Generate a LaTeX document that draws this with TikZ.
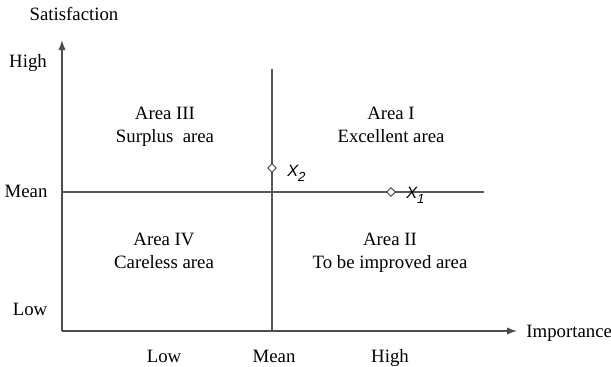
\documentclass[tikz,border=0pt]{standalone}
\usepackage{fontspec}
\setmainfont{Liberation Serif}
\newfontfamily\pointfont{Liberation Sans}
\usetikzlibrary{positioning,arrows.meta,shapes.geometric}

\newcommand{\pointname}[1]{X\raisebox{-0.55ex}{\fontsize{6.6}{7}\selectfont #1}}

\begin{document}
\begin{tikzpicture}[
  x=0.5pt,y=-0.5pt,
  >={Latex[length=5pt,width=3.6pt]},
  axis/.style={->,draw=black!70,line width=0.6pt},
  divider/.style={draw=black!65,line width=0.6pt},
  lbl/.style={font=\fontsize{9.4}{11.5}\selectfont,inner sep=0pt,anchor=base},
  area/.style={lbl,align=center,anchor=north},
  point/.style={diamond,draw=black!75,fill=white,line width=0.45pt,
    minimum size=4.4pt,inner sep=0pt},
  pname/.style={font=\pointfont\itshape\fontsize{8.2}{9.8}\selectfont,inner sep=0pt}
]
  \useasboundingbox (0,0) rectangle (611,366);

  \coordinate (origin) at (62,331);
  \coordinate (ytip) at (62,40);
  \coordinate (xtip) at (517,331);
  \coordinate (mstart) at (62,192);
  \coordinate (mend) at (484,192);
  \coordinate (mtop) at (272,69);

  % axes and dividing lines
  \draw[axis] (origin) -- (ytip);
  \draw[axis] (origin) -- (xtip);
  \draw[divider] (mstart) -- (mend);
  \draw[divider] (mtop) -- (mtop |- origin);

  % axis titles
  \node[lbl] (satisfaction) at (74,20) {Satisfaction};
  \node[lbl,anchor=base west] (importance) at (526,337) {Importance};

  % levels
  \node[lbl] (yhigh) at (28,67) {High};
  \node[lbl] (ymean) at (26,197) {Mean};
  \node[lbl] (ylow) at (30,315) {Low};
  \node[lbl] (xlow) at (164,362) {Low};
  \node[lbl] (xmean) at (274,362) {Mean};
  \node[lbl] (xhigh) at (390,362) {High};

  % quadrants
  \node[area] (area3) at (165,107) {Area III\\Surplus~~area};
  \node[area] (area1) at (391,107) {Area I\\Excellent area};
  \node[area] (area4) at (164,233) {Area IV\\Careless area};
  \node[area] (area2) at (390,233) {Area II\\To be improved area};

  % points
  \node[point] (x2) at (272,168) {};
  \node[pname,right=5pt of x2,yshift=-2.5pt] (x2name) {\pointname{2}};
  \node[point] (x1) at (391,192) {};
  \node[pname,right=5pt of x1,yshift=-1.5pt] (x1name) {\pointname{1}};
\end{tikzpicture}
\end{document}
